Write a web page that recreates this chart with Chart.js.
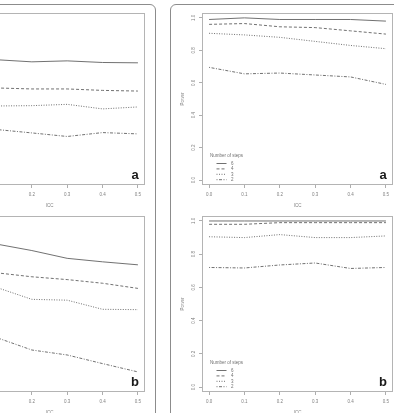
<!DOCTYPE html>
<html>
<head>
<meta charset="utf-8">
<script src="https://cdn.jsdelivr.net/npm/chart.js@4.4.1/dist/chart.umd.min.js"></script>
<style>
  html, body { margin: 0; padding: 0; background: #fff; }
  body { width: 394px; height: 413px; position: relative; overflow: hidden; }
  .group { position: absolute; top: 4px; height: 480px; border: 1px solid #8c8c8c; border-radius: 6px; box-sizing: border-box; }
  canvas { position: absolute; }
</style>
</head>
<body>
<div class="group" style="left:-77px;width:233px"></div>
<div class="group" style="left:170px;width:240px"></div>
<canvas id="leftA" width="231" height="210" style="left:-78px;top:5px"></canvas>
<canvas id="leftB" width="231" height="214" style="left:-78px;top:208px"></canvas>
<canvas id="rightA" width="231" height="210" style="left:170px;top:5px"></canvas>
<canvas id="rightB" width="231" height="214" style="left:170px;top:208px"></canvas>
<script>
const iccValues = [0.0, 0.1, 0.2, 0.3, 0.4, 0.5];
const xTicks = [0.0, 0.1, 0.2, 0.3, 0.4, 0.5];
const yTicks = [0.0, 0.2, 0.4, 0.6, 0.8, 1.0];
const stepLabels = ['6', '4', '3', '2'];

// left column, panel a and b (y axis is cut off in the picture)
const leftA6 = [0.75, 0.742, 0.729, 0.735, 0.725, 0.723];
const leftA4 = [0.57, 0.568, 0.562, 0.562, 0.553, 0.549];
const leftA3 = [0.46, 0.457, 0.459, 0.467, 0.439, 0.451];
const leftA2 = [0.32, 0.312, 0.291, 0.269, 0.293, 0.285];

const leftB6 = [0.88, 0.861, 0.822, 0.775, 0.754, 0.736];
const leftB4 = [0.70, 0.688, 0.664, 0.647, 0.625, 0.594];
const leftB3 = [0.62, 0.600, 0.528, 0.523, 0.468, 0.466];
const leftB2 = [0.33, 0.298, 0.223, 0.193, 0.141, 0.091];

// right column: power
const powerA6 = [0.99, 1.0, 0.99, 0.99, 0.99, 0.98];
const powerA4 = [0.96, 0.965, 0.945, 0.94, 0.92, 0.90];
const powerA3 = [0.905, 0.895, 0.88, 0.855, 0.83, 0.81];
const powerA2 = [0.695, 0.655, 0.66, 0.648, 0.636, 0.59];

const powerB6 = [1.0, 1.0, 1.0, 1.0, 1.0, 1.0];
const powerB4 = [0.98, 0.98, 0.99, 0.99, 0.99, 0.99];
const powerB3 = [0.905, 0.90, 0.918, 0.90, 0.90, 0.91];
const powerB2 = [0.72, 0.717, 0.735, 0.747, 0.714, 0.72];

const font = '"Liberation Sans", Arial, sans-serif';
const small = { family: font, size: 4.5 };
const lineStyles = [[], [3, 2], [1, 1.5], [1, 1.5, 3, 1.5]];

// plot frame + panel letter + "Number of steps" legend
const framePlugin = {
  id: 'frame',
  afterDraw(chart, args, o) {
    const { ctx, chartArea: a } = chart;
    ctx.save();
    ctx.strokeStyle = '#b4b4b4';
    ctx.lineWidth = 1;
    ctx.strokeRect(a.left + 0.5, a.top + 0.5, a.right - a.left - 1, a.bottom - a.top - 1);

    ctx.fillStyle = '#1a1a1a';
    ctx.font = 'bold 13px ' + font;
    ctx.textAlign = 'center';
    ctx.textBaseline = 'middle';
    ctx.fillText(o.letter, a.right - 10, a.bottom - 9.5);

    if (o.legend) {
      ctx.font = '4.5px ' + font;
      ctx.fillStyle = '#707070';
      ctx.textAlign = 'left';
      ctx.fillText('Number of steps', a.left + 8, a.bottom - 29.5);
      chart.data.datasets.forEach((ds, i) => {
        const y = a.bottom - 21.5 + i * 5.4;
        ctx.strokeStyle = ds.borderColor;
        ctx.lineWidth = ds.borderWidth;
        ctx.setLineDash(ds.borderDash);
        ctx.beginPath();
        ctx.moveTo(a.left + 14.5, y);
        ctx.lineTo(a.left + 24.5, y);
        ctx.stroke();
        ctx.setLineDash([]);
        ctx.fillText(ds.label, a.left + 29, y);
      });
    }
    ctx.restore();
  }
};

function makePanel(id, series, letter, legend) {
  new Chart(document.getElementById(id), {
    type: 'line',
    data: {
      datasets: series.map((vals, i) => ({
        label: stepLabels[i],
        data: iccValues.map((x, j) => ({ x: x, y: vals[j] })),
        borderColor: '#616161',
        borderWidth: 0.9,
        borderDash: lineStyles[i],
        pointRadius: 0,
        tension: 0
      }))
    },
    options: {
      responsive: false,
      animation: false,
      events: [],
      layout: { padding: { left: 0, top: 8, right: 8, bottom: 0 } },
      plugins: {
        legend: { display: false },
        tooltip: { enabled: false },
        frame: { letter: letter, legend: legend }
      },
      scales: {
        x: {
          type: 'linear',
          min: -0.02,
          max: 0.52,
          afterBuildTicks: s => { s.ticks = xTicks.map(v => ({ value: v })); },
          afterFit: s => { s.height = 30; },
          grid: { drawOnChartArea: false, drawTicks: true, tickLength: 3, color: '#999', lineWidth: 0.8 },
          border: { display: false },
          ticks: { font: small, color: '#808080', padding: 4, maxRotation: 0, autoSkip: false, callback: v => v.toFixed(1) },
          title: { display: true, text: 'ICC', font: small, color: '#808080', padding: { top: 0, bottom: 7 } }
        },
        y: {
          type: 'linear',
          min: -0.03,
          max: 1.03,
          afterBuildTicks: s => { s.ticks = yTicks.map(v => ({ value: v })); },
          afterFit: s => { s.width = 32; },
          grid: { drawOnChartArea: false, drawTicks: true, tickLength: 3, color: '#999', lineWidth: 0.8 },
          border: { display: false },
          ticks: { font: small, color: '#808080', padding: 2, minRotation: 90, maxRotation: 90, crossAlign: 'center', autoSkip: false, callback: v => v.toFixed(1) },
          title: { display: true, text: 'Power', font: small, color: '#808080', padding: { top: 10, bottom: 0 } }
        }
      }
    },
    plugins: [framePlugin]
  });
}

makePanel('leftA', [leftA6, leftA4, leftA3, leftA2], 'a', false);
makePanel('leftB', [leftB6, leftB4, leftB3, leftB2], 'b', false);
makePanel('rightA', [powerA6, powerA4, powerA3, powerA2], 'a', true);
makePanel('rightB', [powerB6, powerB4, powerB3, powerB2], 'b', true);
</script>
</body>
</html>
